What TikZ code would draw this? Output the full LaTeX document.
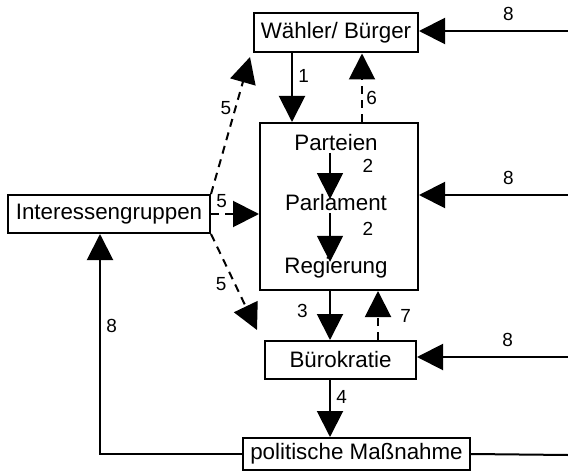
\documentclass[tikz,border=0pt]{standalone}
\usepackage{fontspec}
\setmainfont{Liberation Sans}
\usetikzlibrary{arrows.meta}

\begin{document}
\begin{tikzpicture}[
    x=0.25mm,
    y=-0.25mm,
    box/.style={
        draw,
        line width=0.5mm,
        inner sep=0pt,
        font=\fontsize{15.9}{18}\selectfont
    },
    txt/.style={
        inner sep=1pt,
        font=\fontsize{15.9}{18}\selectfont
    },
    num/.style={
        inner sep=1pt,
        font=\fontsize{13.5}{15}\selectfont
    },
    pfeil/.style={
        -{Triangle[length=6.5mm, width=6.5mm]},
        line width=0.5mm
    },
    innen/.style={
        pfeil,
        line width=0.3mm,
        shorten >=-1.5mm
    },
    hinweis/.style={
        pfeil,
        dash pattern=on 2mm off 1.5mm
    }
]
    \useasboundingbox (0,0) rectangle (568,471);

    % --- Boxes ---
    \node[box, minimum width=41mm, minimum height=9.75mm] (waehler) at (336,33) {Wähler/ Bürger};
    \node[box, minimum width=39.5mm, minimum height=41.75mm] (kern) at (339,206.5) {};
    \node[box, minimum width=50.5mm, minimum height=9.5mm] (interessen) at (109,214) {Interessengruppen};
    \node[box, minimum width=37.75mm, minimum height=9.5mm] (buero) at (340.5,360) {Bürokratie};
    \node[box, minimum width=56.75mm, minimum height=8mm] (massnahme) at (356.5,454) {politische Maßnahme};

    % --- Inside ---
    \node[txt] (parteien) at (336,143) {Parteien};
    \node[txt] (parlament) at (336,203) {Parlament};
    \node[txt] (regierung) at (336,268) {Regierung};

    % --- Helper coordinates ---
    \coordinate (c1) at (292,0);
    \coordinate (c2) at (330,0);
    \coordinate (c6) at (362,0);
    \coordinate (c7) at (378,0);
    \coordinate (c8) at (100,0);
    \coordinate (r1) at (568,31);
    \coordinate (r2) at (568,195);
    \coordinate (r3) at (568,357);
    \coordinate (r4) at (568,455);
    \coordinate (z5a) at (250,57);
    \coordinate (z5b) at (257,330);

    % --- Main flow ---
    \draw[pfeil] (waehler.south -| c1) -- (kern.north -| c1)
        node[num, pos=0.33, right=1mm] {1};
    \draw[innen] (parteien.south -| c2) -- (parlament.north -| c2);
    \node[num] (zwei1) at (368,166) {2};
    \draw[innen] (parlament.south -| c2) -- (regierung.north -| c2);
    \node[num] (zwei2) at (368,229) {2};
    \draw[pfeil] (kern.south -| c2) -- (buero.north -| c2)
        node[num, pos=0.41, left=5mm] {3};
    \draw[pfeil] (buero.south -| c2) -- (massnahme.north -| c2)
        node[num, pos=0.29, right=1mm] {4};

    % --- Feedback (dashed) ---
    \draw[hinweis] (kern.north -| c6) -- (waehler.south -| c6)
        node[num, pos=0.35, right=0.5mm] {6};
    \draw[hinweis] (buero.north -| c7) -- (kern.south -| c7)
        node[num, pos=0.5, right=5mm] {7};

    % --- Interessengruppen ---
    \draw[hinweis] (interessen.east) -- (kern.west |- interessen.east)
        node[num, pos=0.22, above=1mm] {5};
    \draw[hinweis] (interessen.north east) -- (z5a)
        node[num, pos=0.63, left=0.5mm] {5};
    \draw[hinweis] (interessen.south east) -- (z5b)
        node[num, pos=0.52, left=1.5mm] {5};

    % --- Rueckkopplung 8 ---
    \draw[pfeil] (r1) -- (waehler.east |- r1)
        node[num, pos=0.4, above=2mm] {8};
    \draw[pfeil] (r2) -- (kern.east |- r2)
        node[num, pos=0.4, above=2mm] {8};
    \draw[pfeil] (r3) -- (buero.east |- r3)
        node[num, pos=0.4, above=2mm] {8};
    \draw[line width=0.5mm] (massnahme.east) -- (r4);
    \draw[pfeil] (massnahme.west) -| (interessen.south -| c8)
        node[num, pos=0.79, right=1mm] {8};
\end{tikzpicture}
\end{document}
